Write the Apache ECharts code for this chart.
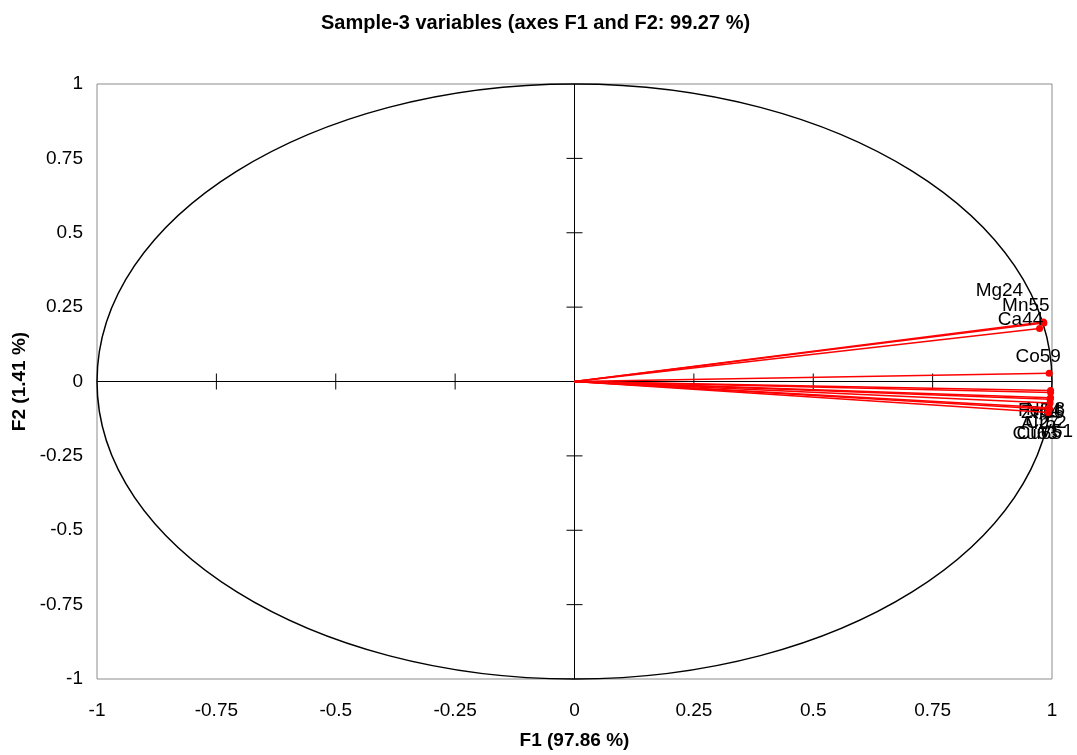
<!DOCTYPE html>
<html><head><meta charset="utf-8">
<script src="https://cdn.jsdelivr.net/npm/echarts@6/dist/echarts.min.js"></script>
<style>html,body{margin:0;padding:0;background:#fff}#c{width:1077px;height:755px}</style>
</head><body><div id="c"></div>
<script>
// ---- data ----
const varNames = ['Mg24','Mn55','Ca44','Co59','Fe54','Ni58','Zn66','Al27','Cr52','Cu63','Cu65','V51'];
const f1Values = [0.982, 0.983, 0.974, 0.994, 0.997, 0.997, 0.997, 0.996, 0.996, 0.994, 0.994, 0.992];
const f2Values = [0.200, 0.197, 0.178, 0.028, -0.030, -0.037, -0.055, -0.060, -0.072, -0.088, -0.093, -0.104];
const tickValues = [-0.75, -0.5, -0.25, 0.25, 0.5, 0.75];
const titleText = 'Sample-3 variables (axes F1 and F2: 99.27 %)';
const xName = 'F1 (97.86 %)';
const yName = 'F2 (1.41 %)';

// label placement (pixel offsets from each point, kept apart from data)
const labelOffsets = [[-44,-31],[-18,-17],[-19,-9],[-11,-16],[-11,20],[-5,17],[-8,15],[-10,24],[-4,20],[-14,26],[-10,25],[8,19]];

const FONT = '"Liberation Sans", Arial, sans-serif';
const chart = echarts.init(document.getElementById('c'));

const vectorData = varNames.map((n, i) => [f1Values[i], f2Values[i], i]);
const tickData = tickValues.map(v => [v]);

chart.setOption({
  animation: false,
  backgroundColor: '#fff',
  title: {
    text: titleText, left: 316, top: 8,
    textStyle: { fontFamily: FONT, fontSize: 20, fontWeight: 'bold', color: '#000' }
  },
  grid: { left: 97, right: 25, top: 84, bottom: 76, show: true, borderColor: '#8c8c8c', borderWidth: 1 },
  xAxis: {
    type: 'value', min: -1, max: 1, interval: 0.25,
    axisLine: { show: false }, axisTick: { show: false }, splitLine: { show: false },
    axisLabel: { fontFamily: FONT, fontSize: 19, color: '#000', margin: 22 },
    name: xName, nameLocation: 'middle', nameGap: 52,
    nameTextStyle: { fontFamily: FONT, fontSize: 19, fontWeight: 'bold', color: '#000' }
  },
  yAxis: {
    type: 'value', min: -1, max: 1, interval: 0.25,
    axisLine: { show: false }, axisTick: { show: false }, splitLine: { show: false },
    axisLabel: { fontFamily: FONT, fontSize: 19, color: '#000', margin: 14 },
    name: yName, nameLocation: 'middle', nameGap: 67, nameRotate: 90,
    nameTextStyle: { fontFamily: FONT, fontSize: 19, fontWeight: 'bold', color: '#000' }
  },
  series: [
    {
      type: 'custom', coordinateSystem: 'cartesian2d', silent: true, z: 1,
      data: [[0, 0]],
      renderItem: function (params, api) {
        const c = api.coord([0, 0]);
        const sx = api.size([1, 0])[0];
        const sy = api.size([0, 1])[1];
        const lx0 = api.coord([-1, 0]), lx1 = api.coord([1, 0]);
        const ly0 = api.coord([0, -1]), ly1 = api.coord([0, 1]);
        return {
          type: 'group',
          children: [
            { type: 'line', shape: { x1: lx0[0], y1: lx0[1], x2: lx1[0], y2: lx1[1] }, style: { stroke: '#000', lineWidth: 1 } },
            { type: 'line', shape: { x1: ly0[0], y1: ly0[1], x2: ly1[0], y2: ly1[1] }, style: { stroke: '#000', lineWidth: 1 } },
            { type: 'ellipse', shape: { cx: c[0], cy: c[1], rx: sx, ry: sy }, style: { fill: null, stroke: '#000', lineWidth: 1.5 } }
          ]
        };
      }
    },
    {
      type: 'custom', coordinateSystem: 'cartesian2d', silent: true, z: 2,
      data: tickData,
      renderItem: function (params, api) {
        const v = api.value(0);
        const px = api.coord([v, 0]);
        const py = api.coord([0, v]);
        return {
          type: 'group',
          children: [
            { type: 'line', shape: { x1: px[0], y1: px[1] - 8, x2: px[0], y2: px[1] + 8 }, style: { stroke: '#000', lineWidth: 1 } },
            { type: 'line', shape: { x1: py[0] - 8, y1: py[1], x2: py[0] + 8, y2: py[1] }, style: { stroke: '#000', lineWidth: 1 } }
          ]
        };
      }
    },
    {
      type: 'custom', coordinateSystem: 'cartesian2d', silent: true, z: 3, clip: false,
      data: vectorData,
      renderItem: function (params, api) {
        const o = api.coord([0, 0]);
        const p = api.coord([api.value(0), api.value(1)]);
        const i = api.value(2);
        const off = labelOffsets[i];
        return {
          type: 'group',
          children: [
            { type: 'line', shape: { x1: o[0], y1: o[1], x2: p[0], y2: p[1] }, style: { stroke: '#ff0000', lineWidth: 1.5 } },
            { type: 'circle', shape: { cx: p[0], cy: p[1], r: 3.5 }, style: { fill: '#ff0000' } },
            { type: 'text', style: { text: varNames[i], x: p[0] + off[0], y: p[1] + off[1], align: 'center', verticalAlign: 'middle', fill: '#000', fontSize: 19, fontFamily: FONT } }
          ]
        };
      }
    }
  ]
});
</script>
</body></html>
